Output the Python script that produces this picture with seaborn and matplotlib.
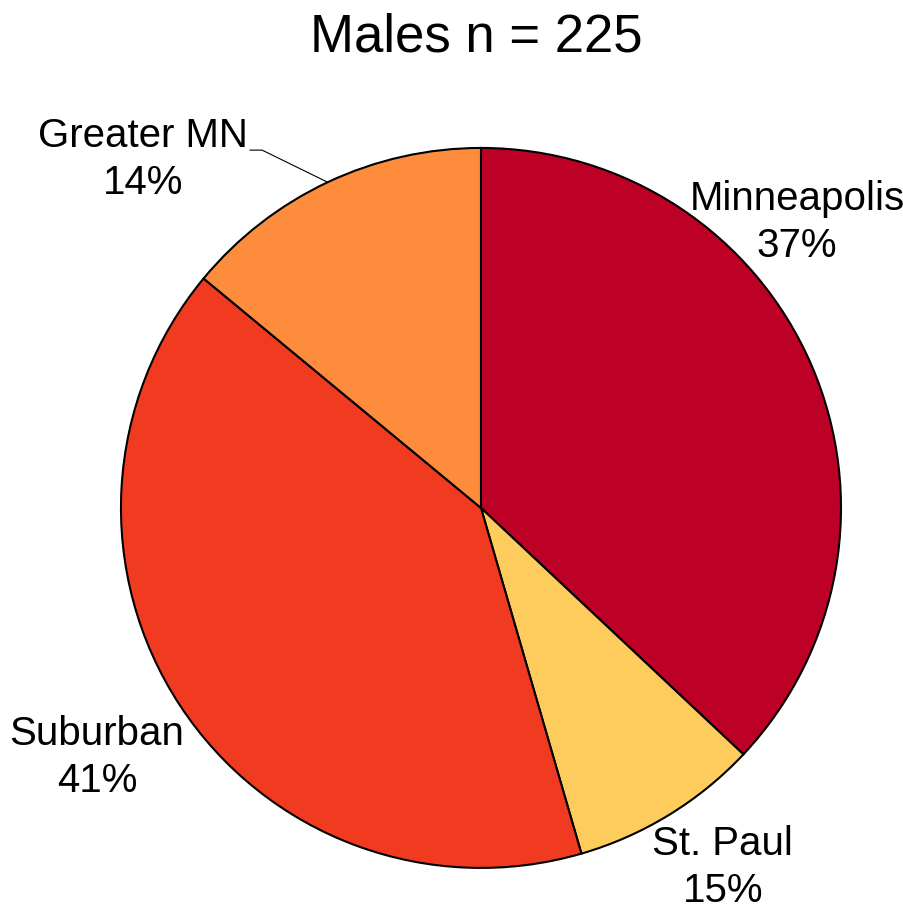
import numpy as np
import matplotlib
matplotlib.use("Agg")
import matplotlib.pyplot as plt
from matplotlib import font_manager
import seaborn as sns

# slice data (sizes, labels as printed)
regions = ["Minneapolis", "St. Paul", "Suburban", "Greater MN"]
shares = [37.0, 8.5, 40.5, 14.0]
pct_labels = ["37%", "15%", "41%", "14%"]
colors = ["#BD0026", "#FECC5C", "#F03B20", "#FD8D3C"]
title = "Males n = 225"

sns.set_theme(style="white")

# the original uses a narrow sans; use one if installed, else shrink a bit
installed = {f.name for f in font_manager.fontManager.ttflist}
if "Liberation Sans Narrow" in installed:
    plt.rcParams["font.family"] = ["Liberation Sans Narrow", "DejaVu Sans"]
    label_size, title_size = 32, 44
else:
    plt.rcParams["font.family"] = ["Liberation Sans", "DejaVu Sans"]
    label_size, title_size = 29, 38
plt.rcParams["text.color"] = "black"

fig = plt.figure(figsize=(9.04, 9.14), dpi=100)
ax = fig.add_axes([0, 0, 1, 1])

wedges, _ = ax.pie(
    shares,
    colors=colors,
    startangle=90,
    counterclock=False,
    radius=1.0,
    wedgeprops=dict(edgecolor="black", linewidth=1.5),
)

# label positions (data units, pie radius = 1)
label_pos = {
    "Minneapolis": (0.878, 0.794),
    "St. Paul": (0.672, -1.0),
    "Suburban": (-1.067, -0.694),
    "Greater MN": (-0.939, 0.967),
}
for w, name, pct in zip(wedges, regions, pct_labels):
    x, y = label_pos[name]
    ax.text(x, y, f"{name}\n{pct}", ha="center", va="center",
            fontsize=label_size, linespacing=1.3, color="black")

# leader line for Greater MN
gm = wedges[3]
mid = np.deg2rad((gm.theta1 + gm.theta2) / 2)
ex, ey = np.cos(mid), np.sin(mid)
ax.plot([-0.642, -0.608, ex], [0.994, 0.994, ey], color="black", lw=0.8)

ax.set_xlim(-1.336, 1.175)
ax.set_ylim(-1.128, 1.411)
ax.set_aspect("auto")
ax.axis("off")

fig.text(0.527, 1 - 37 / 914, title, ha="center", va="center",
         fontsize=title_size, color="black")

fig.savefig("out.png", dpi=100)
